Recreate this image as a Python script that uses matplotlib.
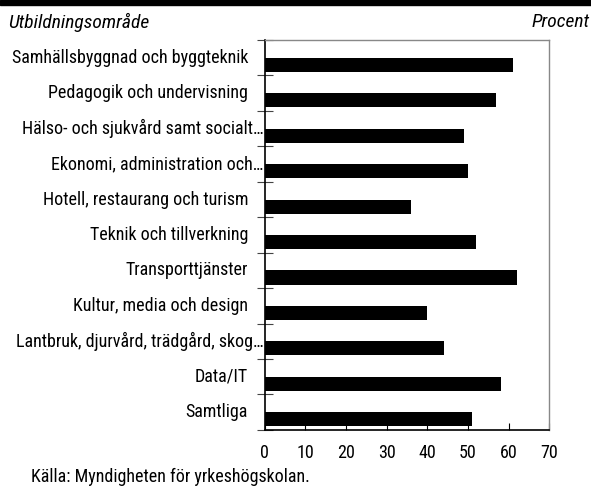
import matplotlib.pyplot as plt
import matplotlib as mpl
import matplotlib.transforms as mtransforms
import numpy as np

mpl.rcParams.update({
    "font.family": ["Roboto Condensed", "DejaVu Sans"],
    "font.size": 13,
})

areas = [
    "Samhällsbyggnad och byggteknik",
    "Pedagogik och undervisning",
    "Hälso- och sjukvård samt socialt…",
    "Ekonomi, administration och…",
    "Hotell, restaurang och turism",
    "Teknik och tillverkning",
    "Transporttjänster",
    "Kultur, media och design",
    "Lantbruk, djurvård, trädgård, skog…",
    "Data/IT",
    "Samtliga",
]
share = [61, 57, 49, 50, 36, 52, 62, 40, 44, 58, 51]
xticks = [0, 10, 20, 30, 40, 50, 60, 70]

fig = plt.figure(figsize=(5.91, 4.88), dpi=100)
ax = fig.add_axes([0.448, 0.119, 0.4815, 0.799])

y = np.arange(len(areas))
# bars hang below the middle of each row, label sits on the middle
ax.barh(y, share, height=0.4, align="edge", color="black")
ax.set_ylim(len(areas) - 0.5, -0.5)
ax.set_xlim(0, 70)
ax.set_xticks(xticks)
ax.tick_params(axis="x", direction="in", length=5, width=0.8, pad=10, labelsize=13)

# ticks between categories, crossing the spine
ax.set_yticks([])
ax.set_yticks(np.arange(-0.5, len(areas)), minor=True)
ax.tick_params(axis="y", which="minor", direction="inout", length=12, width=0.8,
               color="#444444", labelleft=False)

for side in ["top", "right"]:
    ax.spines[side].set_color("#888888")
    ax.spines[side].set_linewidth(1.0)
for side in ["left", "bottom"]:
    ax.spines[side].set_linewidth(1.2)

for yi, name in zip(y, areas):
    dx = -1 / 72 if name.endswith("…") else -12 / 72
    off = mtransforms.ScaledTranslation(dx, 0, fig.dpi_scale_trans)
    tr = mtransforms.blended_transform_factory(ax.transAxes, ax.transData) + off
    ax.text(0, yi, name, transform=tr, ha="right", va="center")

# black band along the top edge
fig.patches.append(plt.Rectangle((0, 0.99), 1, 0.01, transform=fig.transFigure,
                                 color="black", zorder=0))

fig.text(8 / 591, 1 - 22 / 488, "Utbildningsområde", style="italic",
         ha="left", va="center", fontsize=14)
fig.text(590 / 591, 1 - 22 / 488, "Procent", style="italic",
         ha="right", va="center", fontsize=14)
fig.text(31 / 591, 1 - 477 / 488, "Källa: Myndigheten för yrkeshögskolan.",
         ha="left", va="center", fontsize=13)

fig.savefig("out.png", dpi=100)
